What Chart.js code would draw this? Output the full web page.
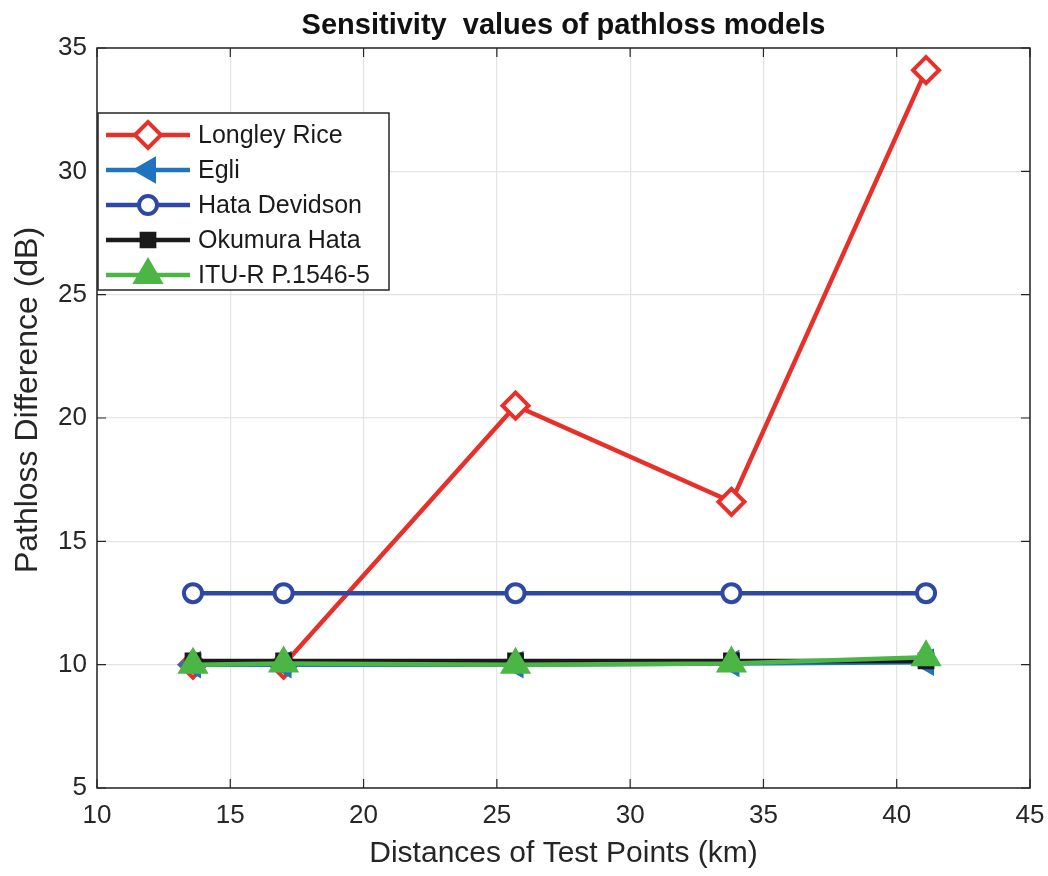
<!DOCTYPE html>
<html>
<head>
<meta charset="utf-8">
<script src="https://cdn.jsdelivr.net/npm/chart.js@4.4.0/dist/chart.umd.min.js"></script>
<style>
  html, body { margin: 0; padding: 0; background: #fff; }
  #wrap { width: 1048px; height: 876px; }
</style>
</head>
<body>
<div id="wrap"><canvas id="myChart"></canvas></div>
<script>
// distances of the test points (km)
const distances = [13.6, 17.0, 25.7, 33.8, 41.1];

const longleyRice = [10.0, 10.0, 20.5, 16.6, 34.1];
const egli = [10.0, 10.0, 10.0, 10.05, 10.1];
const hataDevidson = [12.9, 12.9, 12.9, 12.9, 12.9];
const okumuraHata = [10.15, 10.15, 10.15, 10.15, 10.15];
const ituR = [10.0, 10.05, 10.0, 10.05, 10.3];

const xTicks = [10, 15, 20, 25, 30, 35, 40, 45];
const yTicks = [5, 10, 15, 20, 25, 30, 35];

const titleText = 'Sensitivity  values of pathloss models';
const yTitleText = 'Pathloss Difference (dB)';

function pts(ys) {
    return distances.map((x, i) => ({ x: x, y: ys[i] }));
}

const FONT = '"Liberation Sans", Arial, sans-serif';

const series = [
    { label: 'Longley Rice', data: longleyRice, color: '#e8302a', style: 'rectRot', fill: false, r: 13, rot: 0 },
    { label: 'Egli', data: egli, color: '#1f73c0', style: 'triangle', fill: true, r: 12, rot: -90 },
    { label: 'Hata Devidson', data: hataDevidson, color: '#2f48a6', style: 'circle', fill: false, r: 9, rot: 0 },
    { label: 'Okumura Hata', data: okumuraHata, color: '#1a1a1a', style: 'rect', fill: true, r: 9, rot: 0 },
    { label: 'ITU-R P.1546-5', data: ituR, color: '#4bb545', style: 'triangle', fill: true, r: 14, rot: 0 }
];

const datasets = series.map((s, i) => ({
    label: s.label,
    data: pts(s.data),
    showLine: true,
    borderColor: s.color,
    borderWidth: 4.5,
    pointStyle: s.style,
    pointRadius: s.r,
    pointRotation: s.rot,
    pointBorderColor: s.color,
    pointBorderWidth: 4,
    pointBackgroundColor: s.fill ? s.color : '#ffffff',
    order: series.length - i
}));

// frame + inward ticks like matlab axes, plus title over the axes
const framePlugin = {
    id: 'frame',
    afterDatasetsDraw(chart) {
        const { ctx, chartArea: a, scales } = chart;
        ctx.save();
        ctx.strokeStyle = '#262626';
        ctx.lineWidth = 1.5;
        ctx.strokeRect(a.left, a.top, a.right - a.left, a.bottom - a.top);
        ctx.lineWidth = 1.2;
        xTicks.forEach(v => {
            const px = scales.x.getPixelForValue(v);
            ctx.beginPath();
            ctx.moveTo(px, a.bottom); ctx.lineTo(px, a.bottom - 9);
            ctx.moveTo(px, a.top); ctx.lineTo(px, a.top + 9);
            ctx.stroke();
        });
        yTicks.forEach(v => {
            const py = scales.y.getPixelForValue(v);
            ctx.beginPath();
            ctx.moveTo(a.left, py); ctx.lineTo(a.left + 9, py);
            ctx.moveTo(a.right, py); ctx.lineTo(a.right - 9, py);
            ctx.stroke();
        });

        ctx.fillStyle = '#111';
        ctx.textAlign = 'center';
        ctx.textBaseline = 'middle';
        ctx.font = 'bold 29px ' + FONT;
        ctx.fillText(titleText, (a.left + a.right) / 2, 26);

        ctx.fillStyle = '#262626';
        ctx.font = '32px ' + FONT;
        ctx.translate(28, 400);
        ctx.rotate(-Math.PI / 2);
        ctx.fillText(yTitleText, 0, 0);
        ctx.restore();
    }
};

// legend box in upper left of the axes
const legendPlugin = {
    id: 'boxLegend',
    afterDraw(chart) {
        const { ctx, chartArea: a } = chart;
        const x0 = a.left + 1, y0 = a.top + 65, w = 291, h = 177, rowH = 35;
        ctx.save();
        ctx.fillStyle = '#ffffff';
        ctx.fillRect(x0, y0, w, h);
        ctx.strokeStyle = '#262626';
        ctx.lineWidth = 1.5;
        ctx.strokeRect(x0, y0, w, h);
        ctx.font = '25px ' + FONT;
        ctx.textBaseline = 'middle';
        series.forEach((s, i) => {
            const cy = y0 + 22 + i * rowH;
            ctx.strokeStyle = s.color;
            ctx.lineWidth = 4.5;
            ctx.beginPath();
            ctx.moveTo(x0 + 8, cy); ctx.lineTo(x0 + 92, cy);
            ctx.stroke();
            ctx.fillStyle = s.fill ? s.color : '#ffffff';
            ctx.lineWidth = 4;
            Chart.helpers.drawPoint(ctx, {
                pointStyle: s.style, radius: s.r, rotation: s.rot, borderWidth: 4
            }, x0 + 50, cy);
            ctx.fillStyle = '#1a1a1a';
            ctx.fillText(s.label, x0 + 100, cy + 1);
        });
        ctx.restore();
    }
};

const config = {
    type: 'scatter',
    data: { datasets: datasets },
    options: {
        responsive: true,
        maintainAspectRatio: false,
        animation: false,
        layout: { padding: { top: 48, right: 0, bottom: 0, left: 0 } },
        plugins: {
            legend: { display: false },
            tooltip: { enabled: false },
            title: { display: false }
        },
        scales: {
            x: {
                type: 'linear',
                min: 10, max: 45,
                afterBuildTicks(axis) { axis.ticks = xTicks.map(v => ({ value: v })); },
                afterFit(axis) { axis.height = 88; axis.paddingRight = 16; },
                grid: { color: '#e3e3e3', lineWidth: 1.2, drawTicks: false },
                border: { display: false },
                ticks: {
                    color: '#262626', padding: 12,
                    font: { family: FONT, size: 26 }
                },
                title: {
                    display: true, text: 'Distances of Test Points (km)', color: '#262626',
                    font: { family: FONT, size: 30 },
                    padding: { top: 11 }
                }
            },
            y: {
                type: 'linear',
                min: 5, max: 35,
                afterBuildTicks(axis) { axis.ticks = yTicks.map(v => ({ value: v })); },
                afterFit(axis) { axis.width = 97; axis.paddingTop = 0; },
                grid: { color: '#e3e3e3', lineWidth: 1.2, drawTicks: false },
                border: { display: false },
                ticks: {
                    color: '#262626', padding: 10,
                    font: { family: FONT, size: 26 }
                },
                title: { display: false }
            }
        }
    },
    plugins: [framePlugin, legendPlugin]
};

const myChart = new Chart(document.getElementById('myChart'), config);
</script>
</body>
</html>
